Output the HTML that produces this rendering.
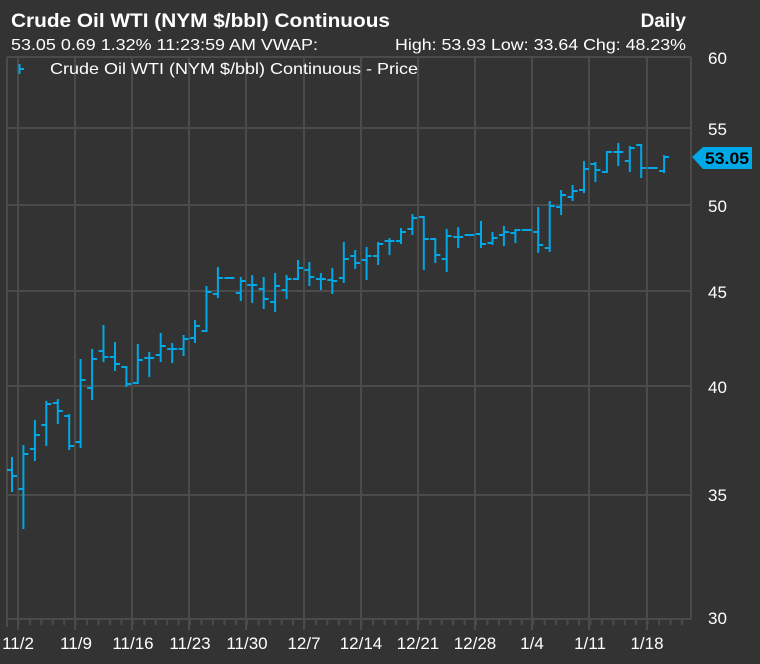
<!DOCTYPE html>
<html><head><meta charset="utf-8"><style>
html,body{margin:0;padding:0;background:#333333;}
svg{display:block;font-family:"Liberation Sans",Arial,sans-serif;}
</style></head><body>
<svg id="s" width="760" height="664" viewBox="0 0 760 664" xmlns="http://www.w3.org/2000/svg">
<rect width="760" height="664" fill="#333333"/>
<g id="grid" stroke="#4b4b4b" stroke-width="2"></g>
<g id="bars" stroke="#00a8e6" stroke-width="2" fill="none"></g>
<text x="11" y="27" fill="#ffffff" font-size="19" font-weight="bold" textLength="379" lengthAdjust="spacingAndGlyphs">Crude Oil WTI (NYM $/bbl) Continuous</text>
<text x="686" y="27" fill="#ffffff" font-size="19" font-weight="bold" text-anchor="end">Daily</text>
<text x="11" y="50" fill="#ffffff" font-size="16" textLength="307" lengthAdjust="spacingAndGlyphs">53.05 0.69 1.32% 11:23:59 AM VWAP:</text>
<text x="395" y="50" fill="#ffffff" font-size="16" textLength="291" lengthAdjust="spacingAndGlyphs">High: 53.93 Low: 33.64 Chg: 48.23%</text>
<path d="M19.5,64 V74 M19.5,69 H24" stroke="#00a8e6" stroke-width="2"/>
<text x="50" y="74" fill="#ffffff" font-size="16" textLength="368" lengthAdjust="spacingAndGlyphs">Crude Oil WTI (NYM $/bbl) Continuous - Price</text>
<g fill="#ffffff" font-size="17">
<text x="708" y="64">60</text><text x="708" y="135">55</text><text x="708" y="212">50</text>
<text x="708" y="298">45</text><text x="708" y="393">40</text><text x="708" y="501">35</text>
<text x="708" y="624">30</text>
</g>
<g fill="#ffffff" font-size="17" text-anchor="middle">
<text x="18" y="649">11/2</text><text x="76" y="649">11/9</text><text x="133" y="649">11/16</text>
<text x="190" y="649">11/23</text><text x="247" y="649">11/30</text><text x="304" y="649">12/7</text>
<text x="361" y="649">12/14</text><text x="418" y="649">12/21</text><text x="475" y="649">12/28</text>
<text x="532" y="649">1/4</text><text x="590" y="649">1/11</text><text x="647" y="649">1/18</text>
</g>
<path d="M692,157 L703,147 H752 V169 H703 Z" fill="#00a8e6"/>
<text x="705" y="164" fill="#000000" font-size="17" font-weight="bold" textLength="44" lengthAdjust="spacingAndGlyphs">53.05</text>
</svg>
<script>
var NS="http://www.w3.org/2000/svg";
function ln(d,parent){var e=document.createElementNS(NS,"path");e.setAttribute("d",d);parent.appendChild(e);}
var g=document.getElementById("grid"),b=document.getElementById("bars");
var d="";
[57,128,205,291,386,495,619].forEach(function(y){d+="M7,"+y+"H691";});
[18,75,132,189,246,304,361,418,475,532,589,647].forEach(function(x){d+="M"+x+",57V630";});
d+="M7,57V627M691,57V619";
for(var i=0;i<60;i++){var x=7+11.44*i;if(x<691)d+="M"+x.toFixed(1)+",619V625";}
ln(d,g);
var B=[[458,491,470,476],[446,528,489,454],[421,460,449,435],[402,445,425,404],[400,423,403,411],
[415,449,416,446],[360,447,442,380],[350,399,388,359],[326,361,351,357],[343,370,357,364],
[367,386,367,384],[345,383,383,360],[353,376,358,358],[334,361,355,346],[344,362,349,349],
[336,355,349,339],[321,342,338,326],[287,331,331,292],[268,297,294,278],[278,278,278,278],
[278,300,293,281],[276,302,285,285],[278,308,289,299],[274,311,302,286],[276,298,290,279],
[261,279,279,268],[263,285,270,277],[274,289,279,279],[269,293,280,281],[243,282,278,259],
[251,268,256,263],[248,279,260,256],[243,264,256,244],[239,254,241,241],[229,243,241,232],
[215,234,229,218],[217,269,217,239],[239,262,239,255],[230,271,259,236],[228,247,237,237],
[235,235,235,235],[222,247,234,244],[233,244,243,238],[227,245,235,232],[230,242,233,230],
[230,230,230,230],[208,252,232,245],[202,251,248,206],[191,214,207,195],[186,200,197,191],
[162,192,190,169],[163,181,164,170],[152,172,172,152],[144,165,152,152],[147,171,161,148],
[145,177,145,168],[168,168,168,168],[156,172,171,157]];
var p="";
B.forEach(function(v,i){var x=12+11.44*i,xs=x.toFixed(1);
 if(v[0]!=v[1])p+="M"+xs+","+(v[0]-1)+"V"+(v[1]+1);
 p+="M"+(x-5).toFixed(1)+","+v[2]+"H"+xs+"M"+xs+","+v[3]+"H"+(x+5).toFixed(1);});
ln(p,b);
</script>
</body></html>
